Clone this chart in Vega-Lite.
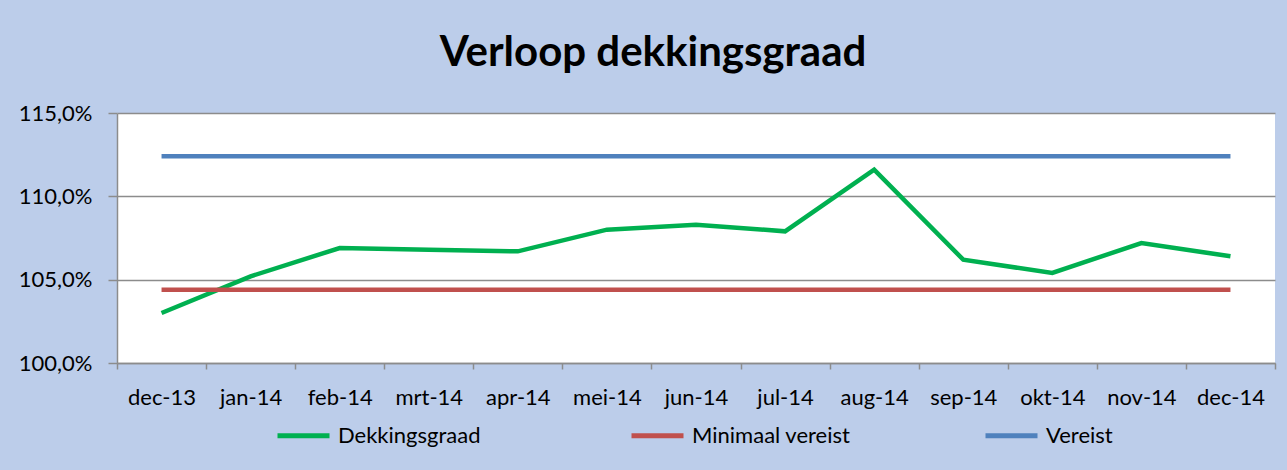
{
  "$schema": "https://vega.github.io/schema/vega-lite/v6.json",
  "width": 1158,
  "height": 250,
  "autosize": {"type": "none"},
  "padding": {"left": 117, "top": 113, "right": 12, "bottom": 107},
  "background": "#BCCDEA",
  "title": {
    "text": "Verloop dekkingsgraad",
    "font": "Lato",
    "fontSize": 42,
    "fontWeight": "bold",
    "color": "#000000",
    "anchor": "middle",
    "frame": "group",
    "dx": -43,
    "offset": -6,
    "baseline": "alphabetic"
  },
  "data": {
    "values": [
      {"maand": "dec-13", "reeks": "Dekkingsgraad", "waarde": 103.0},
      {"maand": "jan-14", "reeks": "Dekkingsgraad", "waarde": 105.2},
      {"maand": "feb-14", "reeks": "Dekkingsgraad", "waarde": 106.9},
      {"maand": "mrt-14", "reeks": "Dekkingsgraad", "waarde": 106.8},
      {"maand": "apr-14", "reeks": "Dekkingsgraad", "waarde": 106.7},
      {"maand": "mei-14", "reeks": "Dekkingsgraad", "waarde": 108.0},
      {"maand": "jun-14", "reeks": "Dekkingsgraad", "waarde": 108.3},
      {"maand": "jul-14", "reeks": "Dekkingsgraad", "waarde": 107.9},
      {"maand": "aug-14", "reeks": "Dekkingsgraad", "waarde": 111.6},
      {"maand": "sep-14", "reeks": "Dekkingsgraad", "waarde": 106.2},
      {"maand": "okt-14", "reeks": "Dekkingsgraad", "waarde": 105.4},
      {"maand": "nov-14", "reeks": "Dekkingsgraad", "waarde": 107.2},
      {"maand": "dec-14", "reeks": "Dekkingsgraad", "waarde": 106.4},
      {"maand": "dec-13", "reeks": "Minimaal vereist", "waarde": 104.4},
      {"maand": "jan-14", "reeks": "Minimaal vereist", "waarde": 104.4},
      {"maand": "feb-14", "reeks": "Minimaal vereist", "waarde": 104.4},
      {"maand": "mrt-14", "reeks": "Minimaal vereist", "waarde": 104.4},
      {"maand": "apr-14", "reeks": "Minimaal vereist", "waarde": 104.4},
      {"maand": "mei-14", "reeks": "Minimaal vereist", "waarde": 104.4},
      {"maand": "jun-14", "reeks": "Minimaal vereist", "waarde": 104.4},
      {"maand": "jul-14", "reeks": "Minimaal vereist", "waarde": 104.4},
      {"maand": "aug-14", "reeks": "Minimaal vereist", "waarde": 104.4},
      {"maand": "sep-14", "reeks": "Minimaal vereist", "waarde": 104.4},
      {"maand": "okt-14", "reeks": "Minimaal vereist", "waarde": 104.4},
      {"maand": "nov-14", "reeks": "Minimaal vereist", "waarde": 104.4},
      {"maand": "dec-14", "reeks": "Minimaal vereist", "waarde": 104.4},
      {"maand": "dec-13", "reeks": "Vereist", "waarde": 112.4},
      {"maand": "jan-14", "reeks": "Vereist", "waarde": 112.4},
      {"maand": "feb-14", "reeks": "Vereist", "waarde": 112.4},
      {"maand": "mrt-14", "reeks": "Vereist", "waarde": 112.4},
      {"maand": "apr-14", "reeks": "Vereist", "waarde": 112.4},
      {"maand": "mei-14", "reeks": "Vereist", "waarde": 112.4},
      {"maand": "jun-14", "reeks": "Vereist", "waarde": 112.4},
      {"maand": "jul-14", "reeks": "Vereist", "waarde": 112.4},
      {"maand": "aug-14", "reeks": "Vereist", "waarde": 112.4},
      {"maand": "sep-14", "reeks": "Vereist", "waarde": 112.4},
      {"maand": "okt-14", "reeks": "Vereist", "waarde": 112.4},
      {"maand": "nov-14", "reeks": "Vereist", "waarde": 112.4},
      {"maand": "dec-14", "reeks": "Vereist", "waarde": 112.4}
    ]
  },
  "mark": {"type": "line", "strokeWidth": 4.5},
  "encoding": {
    "x": {
      "field": "maand",
      "type": "ordinal",
      "sort": null,
      "scale": {"type": "band", "paddingInner": 0, "paddingOuter": 0},
      "axis": {
        "title": null,
        "labelAngle": 0,
        "tickBand": "extent",
        "domainColor": "#8c8c8c",
        "domainWidth": 1.5,
        "tickColor": "#8c8c8c",
        "tickWidth": 1.5,
        "tickSize": 6,
        "labelPadding": 18,
        "labelFont": "Lato",
        "labelFontSize": 22,
        "labelColor": "#000000",
        "grid": false
      }
    },
    "y": {
      "field": "waarde",
      "type": "quantitative",
      "scale": {"domain": [100, 115], "zero": false, "nice": false},
      "axis": {
        "title": null,
        "values": [100, 105, 110, 115],
        "labelExpr": "replace(format(datum.value, '.1f'), '.', ',') + '%'",
        "grid": true,
        "gridColor": "#8c8c8c",
        "gridWidth": 1.5,
        "domainColor": "#8c8c8c",
        "domainWidth": 1.5,
        "tickColor": "#8c8c8c",
        "tickWidth": 1.5,
        "tickSize": 9,
        "labelPadding": 16,
        "labelFont": "Lato",
        "labelFontSize": 22,
        "labelColor": "#000000"
      }
    },
    "color": {
      "field": "reeks",
      "type": "nominal",
      "scale": {
        "domain": ["Dekkingsgraad", "Minimaal vereist", "Vereist"],
        "range": ["#00B050", "#C0504D", "#4F81BD"]
      },
      "legend": {
        "title": null,
        "orient": "none",
        "legendX": 158,
        "legendY": 294,
        "direction": "horizontal",
        "columns": 3,
        "gridAlign": "all",
        "columnPadding": 124,
        "symbolType": "stroke",
        "symbolSize": 2704,
        "symbolStrokeWidth": 5,
        "labelFont": "Lato",
        "labelFontSize": 22,
        "labelColor": "#000000",
        "labelOffset": 6,
        "labelLimit": 300
      }
    }
  },
  "config": {"view": {"fill": "white", "stroke": null}}
}
